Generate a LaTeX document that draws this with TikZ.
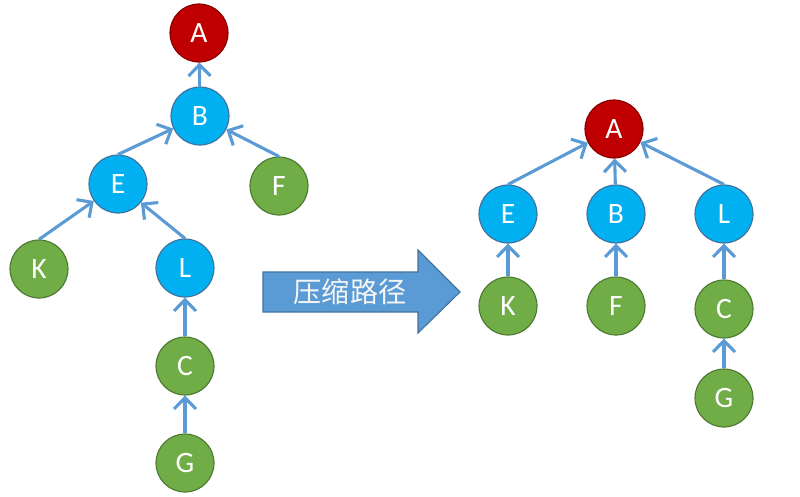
\documentclass[tikz,border=0pt]{standalone}
\usepackage{fontspec}
\setmainfont{Carlito}
\newfontfamily\cjkfont{Noto Sans CJK SC}
\usetikzlibrary{arrows.meta}
\definecolor{rootred}{HTML}{C00000}
\definecolor{midblue}{HTML}{00B0F0}
\definecolor{leafgreen}{HTML}{70AD47}
\definecolor{linkblue}{HTML}{5B9BD5}
\definecolor{bandblue}{HTML}{41719C}
\tikzset{
  root/.style  = {circle, draw=rootred!70!black, thick, fill=rootred,
                  minimum size=1.45cm, inner sep=0pt, text=white, font=\fontsize{21}{21}\selectfont},
  inner/.style = {circle, draw=bandblue, thick, fill=midblue,
                  minimum size=1.45cm, inner sep=0pt, text=white, font=\fontsize{21}{21}\selectfont},
  leaf/.style  = {circle, draw=leafgreen!70!black, thick, fill=leafgreen,
                  minimum size=1.45cm, inner sep=0pt, text=white, font=\fontsize{21}{21}\selectfont},
  up/.style    = {line width=2.2pt, draw=linkblue, -{Straight Barb[length=2.8mm, width=5.5mm]}},
  bigarrow/.style = {fill=linkblue, draw=bandblue, thick},
}

\begin{document}
\begin{tikzpicture}[x=0.025cm, y=-0.025cm]
\useasboundingbox (0,0) rectangle (800,496);

% Left tree: before compression
\node (la) [root]  at (199,33)  {A};
\node (lb) [inner] at (200,116) {B};
\node (le) [inner] at (118,184) {E};
\node (lf) [leaf]  at (279,186) {F};
\node (lk) [leaf]  at (39,269)  {K};
\node (ll) [inner] at (185,268) {L};
\node (lc) [leaf]  at (185,366) {C};
\node (lg) [leaf]  at (185,463) {G};

\draw [up] (lb) -- (la);
\draw [up] (le.north) -- (lb);
\draw [up] (lf.north) -- (lb);
\draw [up] (lk.north) -- (le);
\draw [up] (ll.north) -- (le);
\draw [up] (lc) -- (ll);
\draw [up] (lg) -- (lc);

% The block arrow in the middle
\draw [bigarrow] (263,272) -- (418,272) -- (418,250) -- (460,292)
  -- (418,333) -- (418,312) -- (263,312) -- cycle;
\node (zip) at (350,292) [text=white!92!gray, font=\cjkfont\fontsize{20}{20}\selectfont] {压缩路径};

% Right tree: after compression
\node (ra) [root]  at (614,129) {A};
\node (re) [inner] at (508,214) {E};
\node (rb) [inner] at (616,214) {B};
\node (rl) [inner] at (724,214) {L};
\node (rk) [leaf]  at (508,306) {K};
\node (rf) [leaf]  at (616,306) {F};
\node (rc) [leaf]  at (724,309) {C};
\node (rg) [leaf]  at (724,398) {G};

\draw [up] (re.north) -- (ra);
\draw [up] (rb) -- (ra);
\draw [up] (rl.north) -- (ra);
\draw [up] (rk) -- (re);
\draw [up] (rf) -- (rb);
\draw [up] (rc) -- (rl);
\draw [up] (rg) -- (rc);

\end{tikzpicture}
\end{document}
